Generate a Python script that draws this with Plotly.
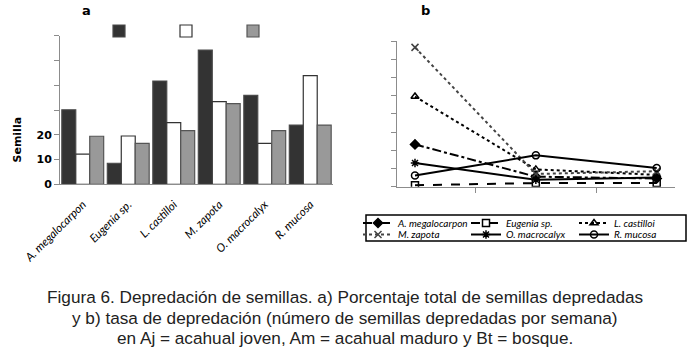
import plotly.graph_objects as go

W, H = 690, 350

# ---------- data ----------
species = ["A. megalocarpon", "Eugenia sp.", "L. castilloi", "M. zapota", "O. macrocalyx", "R. mucosa"]
pct_aj = [30.1, 8.5, 41.7, 54.2, 35.9, 23.9]
pct_am = [12.2, 19.5, 24.9, 33.4, 16.5, 43.9]
pct_bt = [19.4, 16.5, 21.7, 32.6, 21.7, 23.9]
y_ticks_a = [0, 10, 20, 30, 40, 50, 60]
y_ticktext_a = ["0", "10", "20", "", "", "", ""]

habitats = ["Aj", "Am", "Bt"]
rate_megalocarpon = [2.32, 0.55, 0.45]
rate_eugenia = [0.08, 0.20, 0.20]
rate_castilloi = [4.95, 0.95, 0.65]
rate_zapota = [7.65, 0.70, 0.85]
rate_macrocalyx = [1.30, 0.38, 0.50]
rate_mucosa = [0.62, 1.72, 1.03]

caption = [
    "Figura 6. Depredación de semillas. a) Porcentaje total de semillas depredadas",
    "y b) tasa de depredación (número de semillas depredadas por semana)",
    "en Aj = acahual joven, Am = acahual maduro y Bt = bosque.",
]


def px_x(p):
    return p / W


def px_y(p):
    return 1 - p / H


fig = go.Figure()

# ---------- panel a: bars ----------
bar_styles = [("#333333", "#4a4a4a"), ("#ffffff", "#333333"), ("#999999", "#555555")]
for vals, (fc, lc) in zip([pct_aj, pct_am, pct_bt], bar_styles):
    fig.add_trace(go.Bar(
        x=species, y=vals, name=" ",
        marker=dict(color=fc, line=dict(color=lc, width=1.2)),
        xaxis="x", yaxis="y", legend="legend3",
    ))

# ---------- panel b: lines ----------
line_series = [
    ("A. megalocarpon", rate_megalocarpon, "dashdot", "diamond", "#000000", "legend"),
    ("Eugenia sp.", rate_eugenia, "dash", "square-open", "#000000", "legend"),
    ("L. castilloi", rate_castilloi, "dot", "triangle-up-open", "#000000", "legend"),
    ("M. zapota", rate_zapota, "dot", "x-thin-open", "#444444", "legend2"),
    ("O. macrocalyx", rate_macrocalyx, "solid", "asterisk-open", "#000000", "legend2"),
    ("R. mucosa", rate_mucosa, "solid", "circle-open", "#000000", "legend2"),
]
for name, vals, dash, sym, col, lg in line_series:
    fig.add_trace(go.Scatter(
        x=habitats, y=vals, name=name, mode="lines+markers",
        line=dict(color=col, width=2, dash=dash),
        marker=dict(symbol=sym, size=7, color=col, line=dict(color=col, width=1.5)),
        xaxis="x2", yaxis="y2", legend=lg,
    ))

axis_col = "#8c8c8c"
legend_font = dict(family="Lato", size=10, style="italic", color="#000000")
fig.update_layout(
    width=W, height=H,
    margin=dict(l=0, r=0, t=0, b=0, autoexpand=False),
    paper_bgcolor="white", plot_bgcolor="white",
    barmode="group", bargap=0.08, bargroupgap=0,
    font=dict(family="Liberation Sans, Arial", color="#000000"),
    xaxis=dict(
        domain=[px_x(60), px_x(333)], anchor="y",
        showline=True, linecolor=axis_col, linewidth=1,
        ticks="", showgrid=False, tickangle=-45, automargin=False,
        ticklabelstandoff=8,
        tickfont=dict(family="Lato", size=11.5, style="italic", color="#000000"),
    ),
    yaxis=dict(
        domain=[px_y(184.3), px_y(35.7)], anchor="x",
        range=[0, 60], tickvals=y_ticks_a, ticktext=y_ticktext_a,
        showline=True, linecolor=axis_col, linewidth=1, automargin=False,
        ticks="outside", ticklen=5, tickcolor=axis_col, showgrid=False, zeroline=False,
        tickfont=dict(family="DejaVu Sans", size=11, weight="bold", color="#000000"),
    ),
    xaxis2=dict(
        domain=[px_x(396.7), px_x(675)], anchor="y2",
        showline=True, linecolor=axis_col, linewidth=1, automargin=False,
        ticks="outside", ticklen=5, tickcolor=axis_col, tickson="boundaries",
        showticklabels=False, showgrid=False,
    ),
    yaxis2=dict(
        domain=[px_y(186.7), px_y(41)], anchor="x2",
        range=[0, 8], dtick=1, automargin=False,
        showline=True, linecolor=axis_col, linewidth=1,
        ticks="outside", ticklen=5, tickcolor=axis_col,
        showticklabels=False, showgrid=False, zeroline=False,
    ),
    legend=dict(
        orientation="h", x=px_x(358), y=px_y(223), xanchor="left", yanchor="middle",
        entrywidth=63, bgcolor="rgba(0,0,0,0)", borderwidth=0,
        font=legend_font, itemwidth=30,
    ),
    legend2=dict(
        orientation="h", x=px_x(358), y=px_y(234.5), xanchor="left", yanchor="middle",
        entrywidth=63, bgcolor="rgba(0,0,0,0)", borderwidth=0,
        font=legend_font, itemwidth=30,
    ),
    legend3=dict(
        orientation="h", x=px_x(99), y=px_y(31), xanchor="left", yanchor="middle",
        entrywidth=22, bgcolor="rgba(0,0,0,0)", borderwidth=0,
        font=dict(size=10),
    ),
    showlegend=True,
)

# legend frame for panel b
fig.add_shape(type="rect", xref="paper", yref="paper",
              x0=px_x(366), x1=px_x(686), y0=px_y(241), y1=px_y(215),
              line=dict(color="#000000", width=1.5), fillcolor="rgba(0,0,0,0)")

annos = [
    dict(text="<b>a</b>", x=px_x(86), y=px_y(10), font=dict(size=13, family="DejaVu Sans")),
    dict(text="<b>b</b>", x=px_x(425), y=px_y(10), font=dict(size=13, family="DejaVu Sans")),
    dict(text="<b>Semilla</b>", x=px_x(16.5), y=px_y(140), textangle=-90,
         font=dict(size=11, family="DejaVu Sans")),
]
for i, line in enumerate(caption):
    annos.append(dict(text=line, x=0.5, y=px_y(297 + 20.5 * i),
                      font=dict(size=17.2, family="Liberation Sans", color="#222222")))
for a in annos:
    a.update(xref="paper", yref="paper", showarrow=False, xanchor="center", yanchor="middle")
    fig.add_annotation(**a)

fig.write_html("out.html", config={"displayModeBar": False},
               post_script="document.body.style.margin='0px';")
